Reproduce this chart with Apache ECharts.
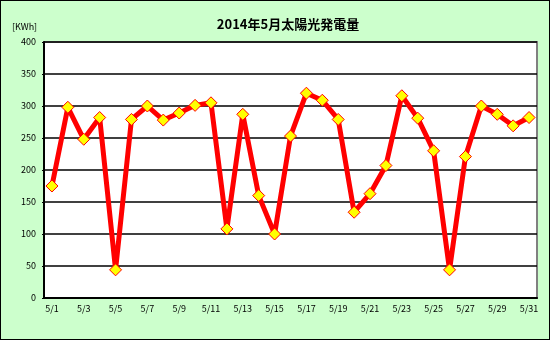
<!DOCTYPE html>
<html><head><meta charset="utf-8">
<script src="https://cdn.jsdelivr.net/npm/echarts@6/dist/echarts.min.js"></script>
<style>html,body{margin:0;padding:0;background:#fff}#c{width:550px;height:340px;box-sizing:border-box;border:1px solid #000;}</style>
</head><body><div id="c"></div>
<script>
const categories = ['5/1','5/2','5/3','5/4','5/5','5/6','5/7','5/8','5/9','5/10','5/11','5/12','5/13','5/14','5/15','5/16','5/17','5/18','5/19','5/20','5/21','5/22','5/23','5/24','5/25','5/26','5/27','5/28','5/29','5/30','5/31'];
const generation = [175,298,248,282,44,279,300,278,289,301,305,108,287,160,100,253,320,309,279,134,163,207,316,281,230,44,221,300,287,269,282];
const titleText = '2014年5月太陽光発電量';
const unitText = '[KWh]';
const chart = echarts.init(document.getElementById('c'));
const font = '"Noto Sans CJK JP", "Noto Sans", sans-serif';
chart.setOption({
  backgroundColor: '#ccffcc',
  animation: false,
  title: [{
    text: titleText, left: 282, top: 12, textAlign: 'center',
    textStyle: {fontFamily: font, fontSize: 13, fontWeight: 'bold', color: '#000'}
  },{
    text: unitText, left: 6, top: 16,
    textStyle: {fontFamily: font, fontSize: 9, fontWeight: 'normal', color: '#000'}
  }],
  grid: {left: 43, right: 12, top: 41, bottom: 41, show: true, backgroundColor: '#fff', borderColor: '#808080', borderWidth: 2},
  xAxis: {
    type: 'category', data: categories, boundaryGap: true,
    axisLine: {lineStyle: {color: '#000', width: 2}},
    axisTick: {interval: 1, length: 4, lineStyle: {color: '#000', width: 2}},
    axisLabel: {interval: 1, color: '#000', fontSize: 9, fontFamily: font, margin: 6}
  },
  yAxis: {
    type: 'value', min: 0, max: 400, interval: 50,
    axisLine: {show: true, lineStyle: {color: '#000', width: 2}},
    axisTick: {show: true, length: 2, lineStyle: {color: '#000'}},
    axisLabel: {color: '#000', fontSize: 9, fontFamily: font, margin: 8},
    splitLine: {lineStyle: {color: '#000', width: 1.5}}
  },
  series: [{
    type: 'line', data: generation,
    lineStyle: {color: '#ff0000', width: 5},
    symbol: 'diamond', symbolSize: 12, showAllSymbol: true,
    itemStyle: {color: '#ffff00', borderColor: '#ff0000', borderWidth: 1},
    z: 3
  }]
});
</script></body></html>
